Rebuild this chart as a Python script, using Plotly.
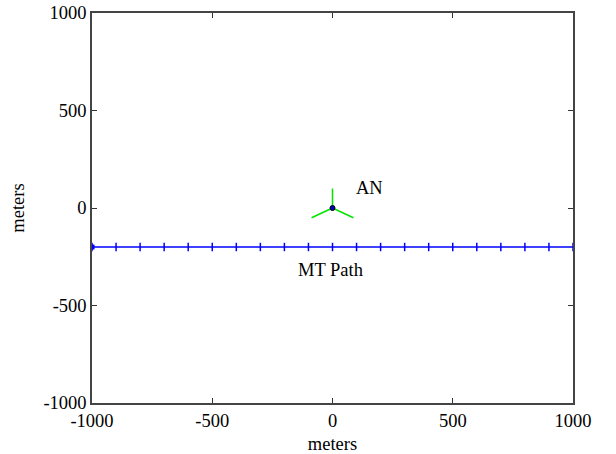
import plotly.graph_objects as go

# MT path along y = -200 (sample points every 100 m)
path_x = [-1000, -900, -800, -700, -600, -500, -400, -300, -200, -100, 0,
          100, 200, 300, 400, 500, 600, 700, 800, 900, 1000]
path_y = [-200] * len(path_x)

# AN position and its three antenna arms
an_x, an_y = 0, 0
arm_x = [0, 0, None, 0, -87, None, 0, 87]
arm_y = [0, 100, None, 0, -50, None, 0, -50]

axis_ticks = [-1000, -500, 0, 500, 1000]
tick_labels = ["-1000", "-500", "0", "500", "1000"]

font = dict(family="Liberation Serif, Times New Roman, serif", size=18.5, color="black")

fig = go.Figure()

# path line with small tick markers
fig.add_trace(go.Scatter(x=path_x, y=path_y, mode="lines+markers",
                         line=dict(color="rgb(0,0,255)", width=1.5),
                         marker=dict(symbol="line-ns", size=6,
                                     line=dict(color="rgb(0,0,255)", width=1.5)),
                         hoverinfo="none"))
# start point
fig.add_trace(go.Scatter(x=path_x[:1], y=path_y[:1], mode="markers",
                         marker=dict(symbol="square", size=5, color="rgb(0,0,255)"),
                         hoverinfo="none"))

# antenna arms
fig.add_trace(go.Scatter(x=arm_x, y=arm_y, mode="lines",
                         line=dict(color="rgb(0,230,0)", width=1.5),
                         hoverinfo="none"))
fig.add_trace(go.Scatter(x=[an_x], y=[an_y], mode="markers",
                         marker=dict(symbol="circle", size=5, color="rgb(0,0,200)",
                                     line=dict(color="black", width=1)),
                         hoverinfo="none"))

fig.add_annotation(x=90, y=105, text="AN", showarrow=False, xanchor="left",
                   yanchor="middle", font=font)
fig.add_annotation(x=-150, y=-320, text="MT Path", showarrow=False, xanchor="left",
                   yanchor="middle", font=font)

axis_style = dict(range=[-1000, 1000], tickvals=axis_ticks, ticktext=tick_labels,
                  ticks="inside", ticklen=5, tickwidth=1, tickcolor="#333",
                  showgrid=False, zeroline=False, showline=True, linecolor="#444",
                  linewidth=1.5, mirror="ticks", tickfont=font, automargin=False,
                  ticklabeloverflow="allow")

fig.update_layout(width=616, height=454, showlegend=False,
                  plot_bgcolor="white", paper_bgcolor="white",
                  margin=dict(l=92, r=43, t=13, b=51),
                  font=font)
fig.update_xaxes(**axis_style, title=dict(text="meters", font=font, standoff=7))
fig.update_yaxes(**axis_style, title=dict(text="meters", font=font, standoff=14))

# drop the default 8px body margin so the figure fills the window
fig.write_html("out.html", config={"displayModeBar": False},
               post_script="document.body.style.margin='0';")
